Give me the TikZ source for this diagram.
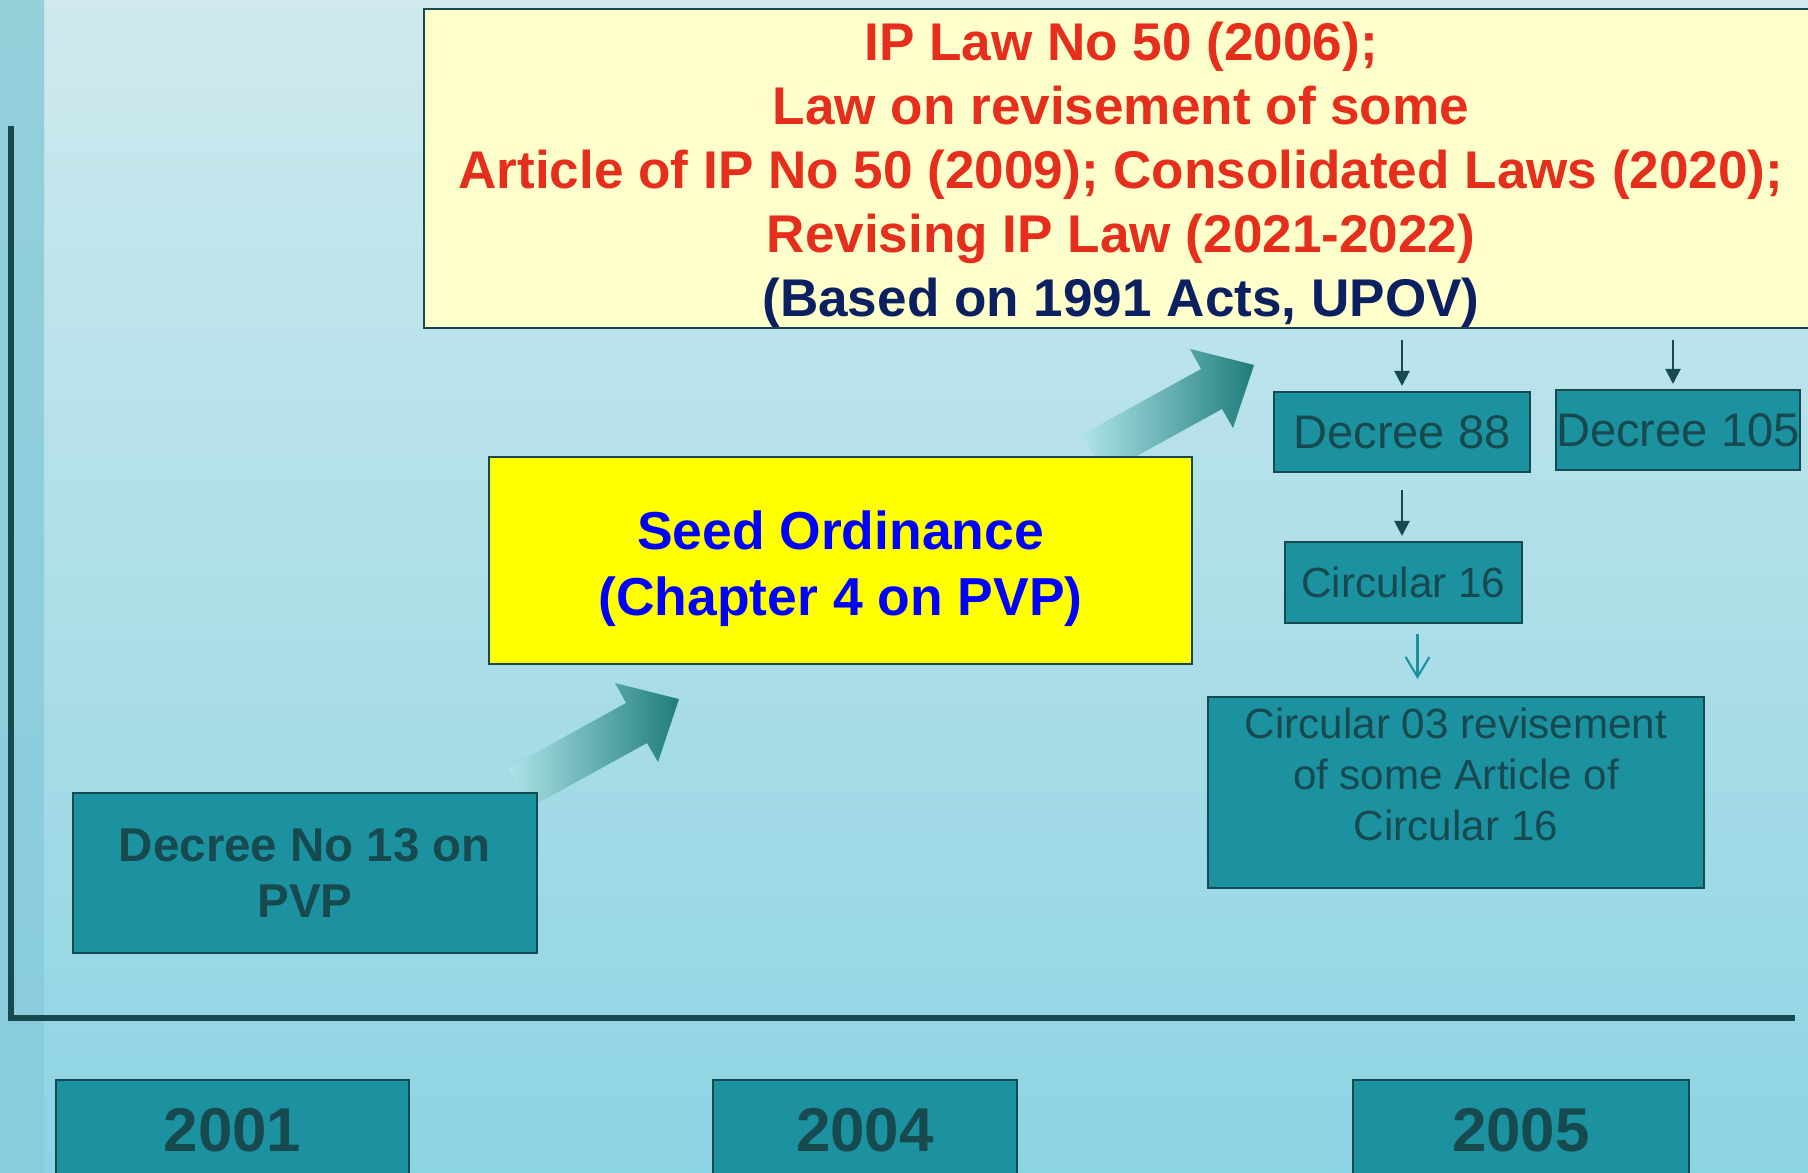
\documentclass[tikz,border=0pt]{standalone}
\usepackage{fontspec}
\setmainfont{Liberation Sans}
\usepackage{tikz}
\usetikzlibrary{arrows.meta}
\definecolor{bgtop}{HTML}{CFE9EE}
\definecolor{bgbottom}{HTML}{8DD4E3}
\definecolor{striptop}{HTML}{94CFDA}
\definecolor{stripbottom}{HTML}{88CCDE}
\definecolor{tealfill}{HTML}{1C91A0}
\definecolor{tealdark}{HTML}{174A4F}
\definecolor{lawcream}{HTML}{FFFFCC}
\definecolor{lawred}{HTML}{E62E1C}
\definecolor{lawnavy}{HTML}{0A2060}
\definecolor{seedyellow}{HTML}{FFFF00}
\definecolor{seedblue}{HTML}{0000FF}
\definecolor{arrowtail}{HTML}{AEE3EA}
\definecolor{arrowmid}{HTML}{84DFE4}
\definecolor{arrowhead}{HTML}{1F7D7B}
\tikzstyle{axis}=[draw=tealdark, line width=0.06cm]
\tikzstyle{tealbox}=[rectangle, draw=tealdark, line width=0.02cm, fill=tealfill, text=tealdark, inner sep=0pt, align=center]
\tikzstyle{yearbox}=[tealbox, minimum height=1cm, font=\fontsize{17.6}{21}\selectfont\bfseries]
\tikzstyle{decreebox}=[tealbox, minimum height=0.8cm, font=\fontsize{13.4}{16}\selectfont]
\tikzstyle{circbox}=[tealbox, font=\fontsize{12}{14.5}\selectfont]
\tikzstyle{lawbox}=[rectangle, draw=tealdark, line width=0.02cm, fill=lawcream, inner sep=0pt]
\tikzstyle{lawtext}=[text=lawred, inner sep=0pt, align=center, font=\fontsize{15.1}{18.2}\selectfont\bfseries]
\tikzstyle{seedbox}=[rectangle, draw=tealdark, line width=0.02cm, fill=seedyellow, inner sep=0pt]
\tikzstyle{seedtext}=[text=seedblue, inner sep=0pt, align=center, font=\fontsize{15.2}{18.8}\selectfont\bfseries]
\tikzstyle{darrow}=[draw=tealdark, line width=0.6pt, -{Triangle[length=0.15cm, width=0.15cm]}]
\tikzstyle{oarrow}=[draw=tealfill, line width=0.6pt, -{Straight Barb[length=0.2cm, width=0.24cm]}]
\tikzstyle{arrowshade}=[left color=arrowtail, middle color=arrowmid, right color=arrowhead]
\newcommand{\yearbox}[4]{
	\node[yearbox, minimum width=#3] (#1) at (#2) {#4};}
\newcommand{\bigarrow}[1]{
	\shade[arrowshade] (#1) -- ++(-64,-16) -- ++(11,20) -- ++(-118,65)
		-- ++(21,40) -- ++(118,-65) -- ++(11,19) -- cycle;}

\begin{document}
\begin{tikzpicture}[x=0.01cm, y=-0.01cm]
	\useasboundingbox (0,0) rectangle (1808,1173);
	\clip (0,0) rectangle (1808,1173);

	% background
	\shade[top color=bgtop, bottom color=bgbottom] (0,0) rectangle (1808,1173);
	\shade[top color=striptop, bottom color=stripbottom] (0,0) rectangle (44,1173);

	% axes
	\coordinate (ytop) at (11,126);
	\coordinate (origin) at (11,1018);
	\coordinate (xend) at (1795,1018);
	\draw[axis] (ytop) -- (origin) -- (xend);

	% growth arrows
	\bigarrow{679,699}
	\bigarrow{1254,365}

	% law boxes
	\node[lawbox, minimum width=13.94cm, minimum height=3.19cm] (iplaw) at (1121,168.5) {};
	\node[lawtext] (iplawtext) at (1121,175)
		{IP Law No 50 (2006);\\ Law on revisement of some\\
		 Article of IP No 50 (2009); Consolidated Laws (2020);\\
		 Revising IP Law (2021-2022)\\ \textcolor{lawnavy}{(Based on 1991 Acts, UPOV)}};
	\node[seedbox, minimum width=7.03cm, minimum height=2.07cm] (seed) at (840.5,560.5) {};
	\node[seedtext] (seedtext) at (840.5,568.5) {Seed Ordinance\\ (Chapter 4 on PVP)};
	\node[tealbox, minimum width=4.64cm, minimum height=1.6cm,
		font=\fontsize{13.5}{16.1}\selectfont\bfseries] (d13) at (305,873) {Decree No 13 on\\ PVP};

	\node[decreebox, minimum width=2.56cm] (d88) at (1402,432) {Decree 88};
	\node[decreebox, minimum width=2.40cm] (d105) at (1678,430) {Decree 105};
	\node[circbox, minimum width=2.37cm, minimum height=0.81cm] (c16) at (1403.5,582.5) {Circular 16};
	\node[circbox, minimum width=4.96cm, minimum height=1.91cm] (c03) at (1456,792.5) {};
	\node[circbox, draw=none, fill=none] (c03text) at (1456,774)
		{Circular 03 revisement\\ of some Article of\\ Circular 16};

	% years
	\yearbox{y2001}{232.5,1130}{3.53cm}{2001}
	\yearbox{y2004}{865,1130}{3.04cm}{2004}
	\yearbox{y2005}{1521,1130}{3.36cm}{2005}

	% links
	\draw[darrow, shorten <=0.11cm, shorten >=0.05cm] (iplaw.south -| d88.north) -- (d88.north);
	\coordinate (d105in) at ([xshift=-0.05cm]d105.north);
	\draw[darrow, shorten <=0.11cm, shorten >=0.05cm] (iplaw.south -| d105in) -- (d105in);
	\draw[darrow, shorten <=0.17cm, shorten >=0.05cm] (d88.south) -- (d88.south |- c16.north);
	\coordinate (c16out) at ([xshift=0.14cm]c16.south);
	\draw[oarrow, shorten <=0.10cm, shorten >=0.17cm] (c16out) -- (c16out |- c03.north);
\end{tikzpicture}
\end{document}
